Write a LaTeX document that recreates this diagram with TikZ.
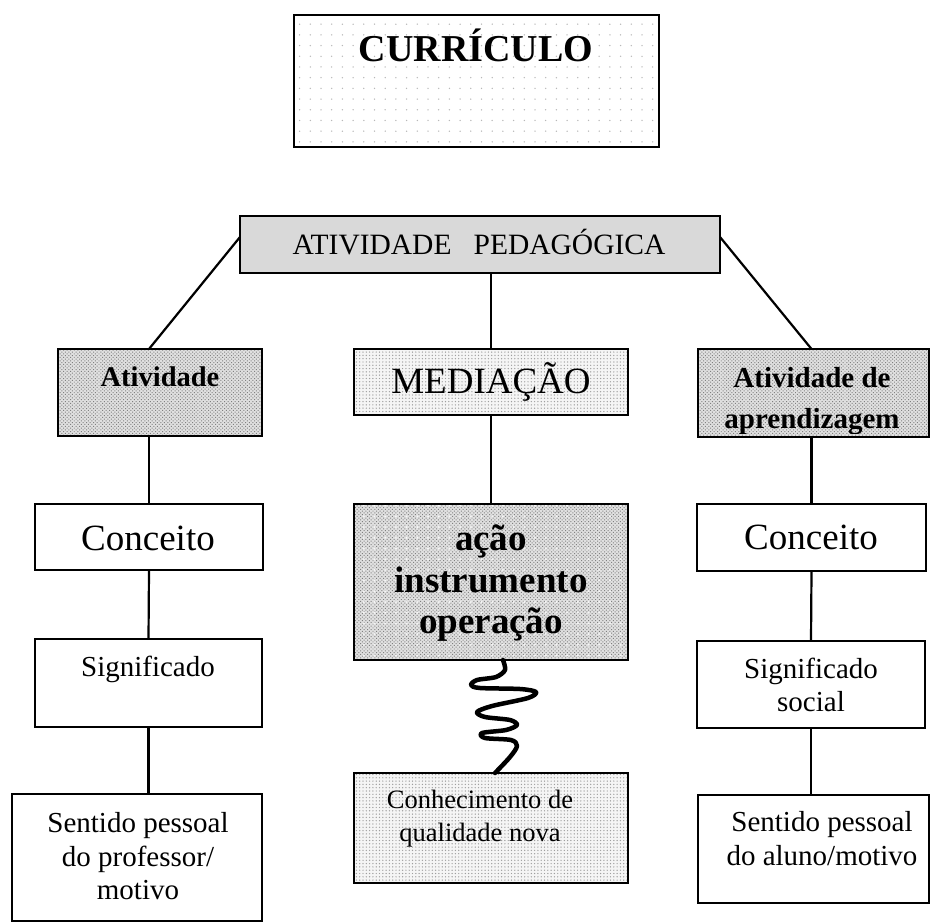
\documentclass[tikz,border=0pt]{standalone}
\usepackage{fontspec}
\setmainfont{Liberation Serif}
\usetikzlibrary{patterns.meta,calc}
\newcommand{\fsz}[1]{\fontsize{#1}{#1}\selectfont}
\tikzset{
  box/.style={draw, line width=2pt, rectangle, inner sep=0pt, outer sep=0pt},
  link/.style={line width=2.2pt},
  txt/.style={anchor=base, inner sep=0pt, outer sep=0pt},
  psparse/.style={preaction={fill=white}, pattern={Dots[distance=10.7pt,radius=0.75pt]}, pattern color=black!28},
  pfine/.style={preaction={fill=black!4}, pattern={Dots[distance=3.3pt,radius=0.7pt]}, pattern color=black!38},
  pcheck/.style={preaction={fill=black!12}, pattern={Dots[distance=2.5pt,angle=45,radius=0.7pt]}, pattern color=black!50},
  pcheckdots/.style={preaction={fill=black!12}, preaction={pattern={Dots[distance=2.5pt,angle=45,radius=0.7pt]}, pattern color=black!50}, pattern={Dots[distance=10.7pt,radius=1.1pt]}, pattern color=black!4},
  psolid/.style={fill=black!15},
}
\begin{document}
\begin{tikzpicture}[x=1pt,y=-1pt]
\useasboundingbox (0,0) rectangle (936,923);

% boxes
\node[box, psparse, minimum width=365pt, minimum height=132pt] (curr) at (476.5,81) {};
\node[box, psolid, minimum width=480pt, minimum height=57pt] (ped) at (480,244.5) {};
\node[box, pcheck, minimum width=204pt, minimum height=87pt] (atl) at (160,392.5) {};
\node[box, pfine, minimum width=274pt, minimum height=66pt] (med) at (491,382) {};
\node[box, pcheck, minimum width=231pt, minimum height=88pt] (atr) at (813.5,393) {};
\node[box, fill=white, minimum width=228pt, minimum height=66pt] (conl) at (149,537) {};
\node[box, pcheckdots, minimum width=274pt, minimum height=156pt] (acao) at (491,582) {};
\node[box, fill=white, minimum width=229pt, minimum height=67pt] (conr) at (811.5,537.5) {};
\node[box, fill=white, minimum width=227pt, minimum height=88pt] (sigl) at (148.5,683) {};
\node[box, fill=white, minimum width=228pt, minimum height=87pt] (sigr) at (811,684.5) {};
\node[box, fill=white, minimum width=250pt, minimum height=127pt] (senl) at (137,857.5) {};
\node[box, pfine, minimum width=274pt, minimum height=110pt] (conh) at (491,828) {};
\node[box, fill=white, minimum width=231pt, minimum height=108pt] (senr) at (813.5,849) {};

% connectors
\draw[link] ($(ped.west)+(0,-7.5)$) -- (atl.north -| conl.north);
\draw[link] ($(ped.east)+(0,-7.5)$) -- (atr.north -| conr.north);
\draw[link] (med.north |- ped.south) -- (med.north);
\draw[link] (med.south) -- (acao.north);
\draw[link] (conl.north |- atl.south) -- (conl.north);
\draw[link] (conl.south) -- (sigl.north);
\draw[link] (sigl.south) -- (sigl.south |- senl.north);
\draw[link] (conr.north |- atr.south) -- (conr.north);
\draw[link] (conr.south) -- (sigr.north);
\draw[link] (sigr.south) -- (sigr.south |- senr.north);

% squiggle
\coordinate (q0) at ($(acao.south)+(12,0)$);
\coordinate (q9) at ($(conh.north)+(4,0)$);
\draw[line width=4.5pt, line cap=round, line join=round]
  plot[smooth, tension=0.5] coordinates {(q0) (505,670) (496,677) (477,680) (471,685) (480,688)
    (520,689) (536,692) (528,698) (492,706) (477,712) (485,717) (510,720) (517,725)
    (506,730) (482,733) (485,738) (511,740) (517,746) (510,757) (q9)};

% texts
\node[txt, font=\fsz{38}\bfseries] (tcurr) at (476,62) {CURRÍCULO};
\node[txt, font=\fsz{29.5}] (tped) at (479,254) {ATIVIDADE\hspace{0.75em}PEDAGÓGICA};
\node[txt, font=\fsz{28.5}\bfseries] (tatl) at (160,386) {Atividade};
\node[txt, font=\fsz{37}] (tmed) at (491,393) {MEDIAÇÃO};
\begin{scope}
  \clip ($(atr.south west)+(1,-4)$) rectangle ($(atr.north east)+(-1,1)$);
  \node[txt, font=\fsz{29}\bfseries] (tatr1) at (812,387) {Atividade de};
  \node[txt, font=\fsz{29}\bfseries] (tatr2) at (812,428) {aprendizagem};
\end{scope}
\node[txt, font=\fsz{37}] (tconl) at (148,550) {Conceito};
\node[txt, font=\fsz{37}] (tconr) at (811,549) {Conceito};
\node[txt, font=\fsz{37}\bfseries] (tac1) at (491,550) {ação};
\node[txt, font=\fsz{37}\bfseries] (tac2) at (491,592) {instrumento};
\node[txt, font=\fsz{37}\bfseries] (tac3) at (491,633) {operação};
\node[txt, font=\fsz{29}] (tsigl) at (148,676) {Significado};
\node[txt, font=\fsz{29}] (tsigr1) at (811,678) {Significado};
\node[txt, font=\fsz{29}] (tsigr2) at (811,711) {social};
\node[txt, font=\fsz{29}] (tsenl1) at (138,832) {Sentido pessoal};
\node[txt, font=\fsz{29}] (tsenl2) at (138,866) {do professor/};
\node[txt, font=\fsz{29}] (tsenl3) at (138,899) {motivo};
\node[txt, font=\fsz{26.5}] (tconh1) at (480,808) {Conhecimento de};
\node[txt, font=\fsz{26.5}] (tconh2) at (480,841) {qualidade nova};
\node[txt, font=\fsz{29}] (tsenr1) at (822,831) {Sentido pessoal};
\node[txt, font=\fsz{29}] (tsenr2) at (822,865) {do aluno/motivo};
\end{tikzpicture}
\end{document}
